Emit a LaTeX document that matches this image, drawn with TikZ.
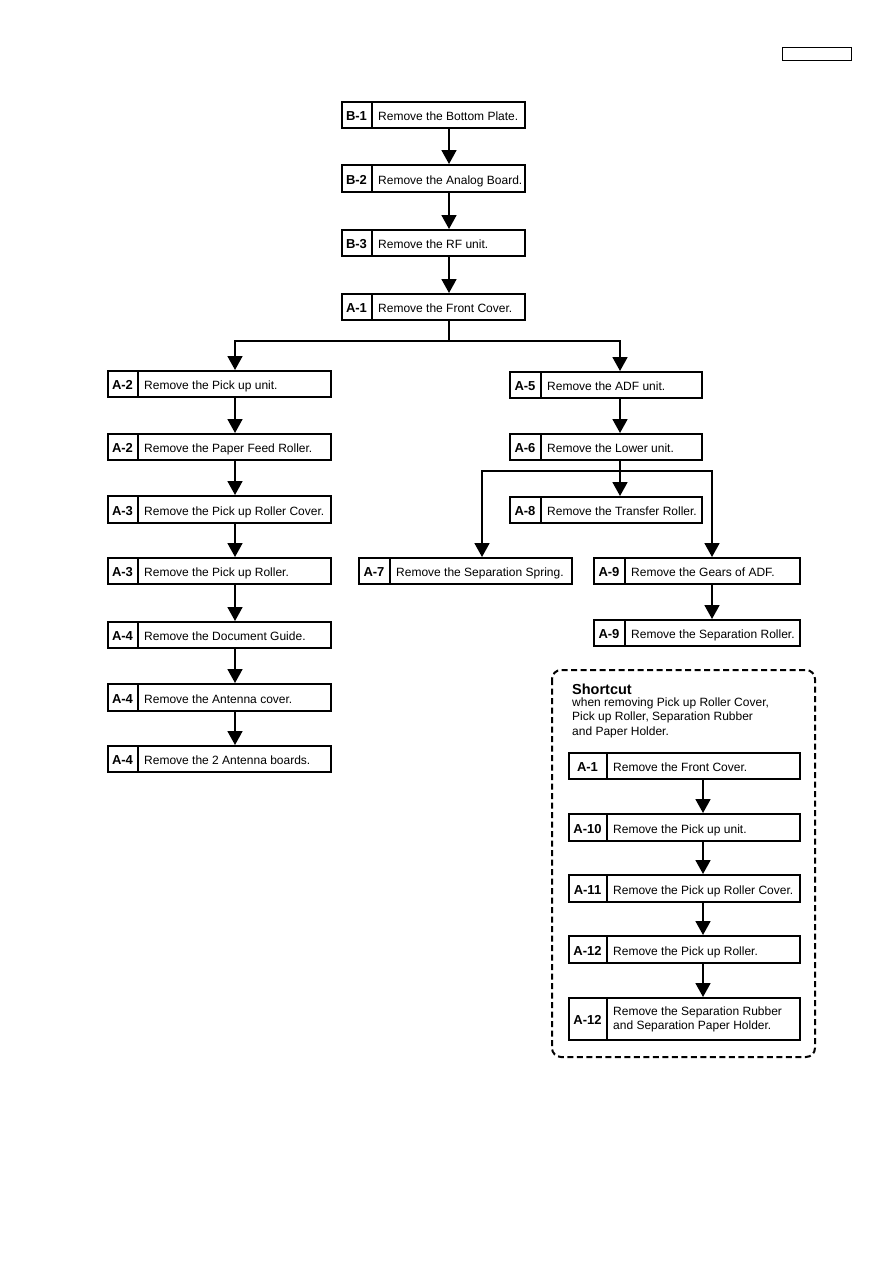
\documentclass[tikz,border=0pt]{standalone}
\usepackage{fontspec}
\setmainfont{Liberation Sans}
\usetikzlibrary{arrows.meta,calc}
\tikzset{
  boxst/.style={draw=black,line width=1.6pt,inner sep=0pt,anchor=north west},
  divst/.style={line width=1.6pt},
  arr/.style={line width=1.8pt,-{Triangle[width=15pt,length=14pt]}},
  ln/.style={line width=1.8pt},
  codest/.style={font=\fontsize{13}{15}\selectfont\bfseries,inner sep=0pt,anchor=base},
  txtst/.style={font=\fontsize{12}{14.5}\selectfont,inner sep=0pt,anchor=base west,align=left},
}
% name, x1, y1, x2, y2, xdiv, code, text
\newcommand{\flowbox}[8]{%
  \pgfmathsetmacro{\fw}{#4-#2}\pgfmathsetmacro{\fh}{#5-#3}%
  \pgfmathsetmacro{\fyb}{(#3+#5)/2+6.5}\pgfmathsetmacro{\fxc}{(#2+#6)/2}%
  \node[boxst,minimum width=\fw pt,minimum height=\fh pt] (#1) at (#2,#3) {};
  \draw[divst] (#6,#3) -- (#6,#5);
  \node[codest] (#1c) at (\fxc,\fyb) {#7};
  \node[txtst] (#1t) at (#6+6,\fyb) {#8};
}
\begin{document}
\begin{tikzpicture}[x=1pt,y=-1pt]
\useasboundingbox (0,0) rectangle (893,1263);
\fill[white] (0,0) rectangle (893,1263);
% top-right empty box
\node[draw,line width=1.2pt,minimum width=69pt,minimum height=13pt,inner sep=0pt,anchor=north west] (tag) at (782,47) {};
% main column
\flowbox{b1}{341}{101}{524}{127}{372}{B-1}{Remove the Bottom Plate.}
\flowbox{b2}{341}{164}{524}{191}{372}{B-2}{Remove the Analog Board.}
\flowbox{b3}{341}{229}{524}{255}{372}{B-3}{Remove the RF unit.}
\flowbox{a1}{341}{293}{524}{319}{372}{A-1}{Remove the Front Cover.}
% left column
\flowbox{l1}{107}{370}{330}{396}{138}{A-2}{Remove the Pick up unit.}
\flowbox{l2}{107}{433}{330}{459}{138}{A-2}{Remove the Paper Feed Roller.}
\flowbox{l3}{107}{495}{330}{522}{138}{A-3}{Remove the Pick up Roller Cover.}
\flowbox{l4}{107}{557}{330}{583}{138}{A-3}{Remove the Pick up Roller.}
\flowbox{l5}{107}{621}{330}{647}{138}{A-4}{Remove the Document Guide.}
\flowbox{l6}{107}{683}{330}{710}{138}{A-4}{Remove the Antenna cover.}
\flowbox{l7}{107}{745}{330}{771}{138}{A-4}{Remove the 2 Antenna boards.}
% right column
\flowbox{r1}{509}{371}{701}{397}{541}{A-5}{Remove the ADF unit.}
\flowbox{r2}{509}{433}{701}{459}{541}{A-6}{Remove the Lower unit.}
\flowbox{r3}{509}{496}{701}{522}{541}{A-8}{Remove the Transfer Roller.}
\flowbox{r4}{358}{557}{571}{583}{390}{A-7}{Remove the Separation Spring.}
\flowbox{r5}{593}{557}{799}{583}{625}{A-9}{Remove the Gears of ADF.}
\flowbox{r6}{593}{619}{799}{645}{625}{A-9}{Remove the Separation Roller.}
% shortcut
\draw[line width=2pt,dash pattern=on 6pt off 3.5pt,rounded corners=9pt] (552,670) rectangle (815,1057);
\node[font=\fontsize{14.5}{16}\selectfont\bfseries,anchor=base west,inner sep=0pt] (sch) at (572,694) {Shortcut};
\node[font=\fontsize{12}{14.5}\selectfont,anchor=base west,inner sep=0pt] (scs1) at (572,706) {when removing Pick up Roller Cover,};
\node[font=\fontsize{12}{14.5}\selectfont,anchor=base west,inner sep=0pt] (scs2) at (572,720.5) {Pick up Roller, Separation Rubber};
\node[font=\fontsize{12}{14.5}\selectfont,anchor=base west,inner sep=0pt] (scs3) at (572,735) {and Paper Holder.};
\flowbox{s1}{568}{752}{799}{778}{607}{A-1}{Remove the Front Cover.}
\flowbox{s2}{568}{813}{799}{840}{607}{A-10}{Remove the Pick up unit.}
\flowbox{s3}{568}{874}{799}{901}{607}{A-11}{Remove the Pick up Roller Cover.}
\flowbox{s4}{568}{935}{799}{962}{607}{A-12}{Remove the Pick up Roller.}
\flowbox{s5}{568}{997}{799}{1039}{607}{A-12}{}
\node[font=\fontsize{12}{14.5}\selectfont,anchor=base west,inner sep=0pt] (s5t1) at (613,1015) {Remove the Separation Rubber};
\node[font=\fontsize{12}{14.5}\selectfont,anchor=base west,inner sep=0pt] (s5t2) at (613,1029) {and Separation Paper Holder.};
% connectors main
\draw[arr] (b1.south -| 449,0) -- (b2.north -| 449,0);
\draw[arr] (b2.south -| 449,0) -- (b3.north -| 449,0);
\draw[arr] (b3.south -| 449,0) -- (a1.north -| 449,0);
\coordinate (split) at (449,341);
\draw[ln] (a1.south -| split) -- (split);
\draw[arr] (split) -| (l1.north -| 235,0);
\draw[arr] (split) -| (r1.north -| 620,0);
% left
\draw[arr] (l1.south -| 235,0) -- (l2.north -| 235,0);
\draw[arr] (l2.south -| 235,0) -- (l3.north -| 235,0);
\draw[arr] (l3.south -| 235,0) -- (l4.north -| 235,0);
\draw[arr] (l4.south -| 235,0) -- (l5.north -| 235,0);
\draw[arr] (l5.south -| 235,0) -- (l6.north -| 235,0);
\draw[arr] (l6.south -| 235,0) -- (l7.north -| 235,0);
% right
\draw[arr] (r1.south -| 620,0) -- (r2.north -| 620,0);
\coordinate (split2) at (620,471);
\draw[arr] (r2.south -| split2) -- (r3.north -| split2);
\draw[arr] (split2) -| (r4.north -| 482,0);
\draw[arr] (split2) -| (r5.north -| 712,0);
\draw[arr] (r5.south -| 712,0) -- (r6.north -| 712,0);
% shortcut
\draw[arr] (s1.south -| 703,0) -- (s2.north -| 703,0);
\draw[arr] (s2.south -| 703,0) -- (s3.north -| 703,0);
\draw[arr] (s3.south -| 703,0) -- (s4.north -| 703,0);
\draw[arr] (s4.south -| 703,0) -- (s5.north -| 703,0);
\end{tikzpicture}
\end{document}
